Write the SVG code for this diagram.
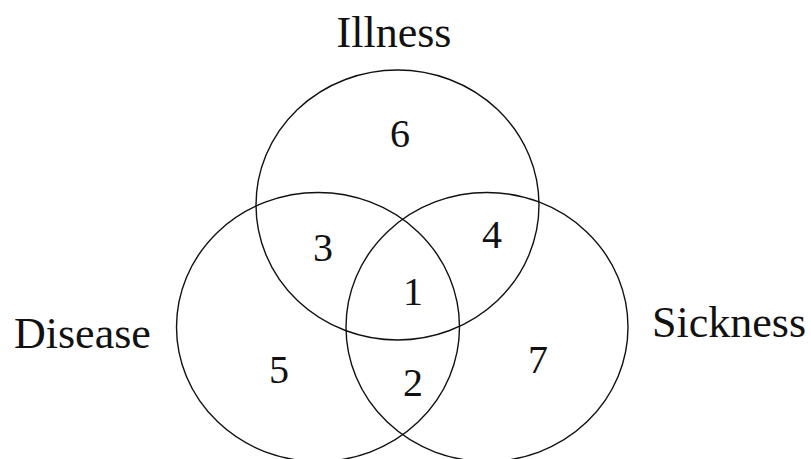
<svg xmlns="http://www.w3.org/2000/svg" width="811" height="459" viewBox="0 0 811 459">
<style>
.set{fill:none;stroke:#111;stroke-width:1.4}
.lbl{font-family:"Liberation Serif","Times New Roman",serif;font-size:44px;fill:#111}
.num{font-family:"Liberation Serif","Times New Roman",serif;font-size:40px;fill:#111;text-anchor:middle}
</style>
<rect width="811" height="459" fill="#fff"/>
<g id="illness">
<ellipse class="set" cx="397.5" cy="205" rx="141.5" ry="135"/>
<text class="lbl" x="394" y="47" text-anchor="middle">Illness</text>
</g>
<g id="disease">
<ellipse class="set" cx="318" cy="327" rx="141.5" ry="134.5"/>
<text class="lbl" x="14" y="348">Disease</text>
</g>
<g id="sickness">
<ellipse class="set" cx="487" cy="327" rx="141" ry="134.5"/>
<text class="lbl" x="652" y="337">Sickness</text>
</g>
<g id="regions">
<text class="num" x="400" y="147">6</text>
<text class="num" x="323" y="261">3</text>
<text class="num" x="492" y="248">4</text>
<text class="num" x="413" y="305">1</text>
<text class="num" x="279" y="383">5</text>
<text class="num" x="413" y="396">2</text>
<text class="num" x="538" y="373">7</text>
</g>
</svg>
